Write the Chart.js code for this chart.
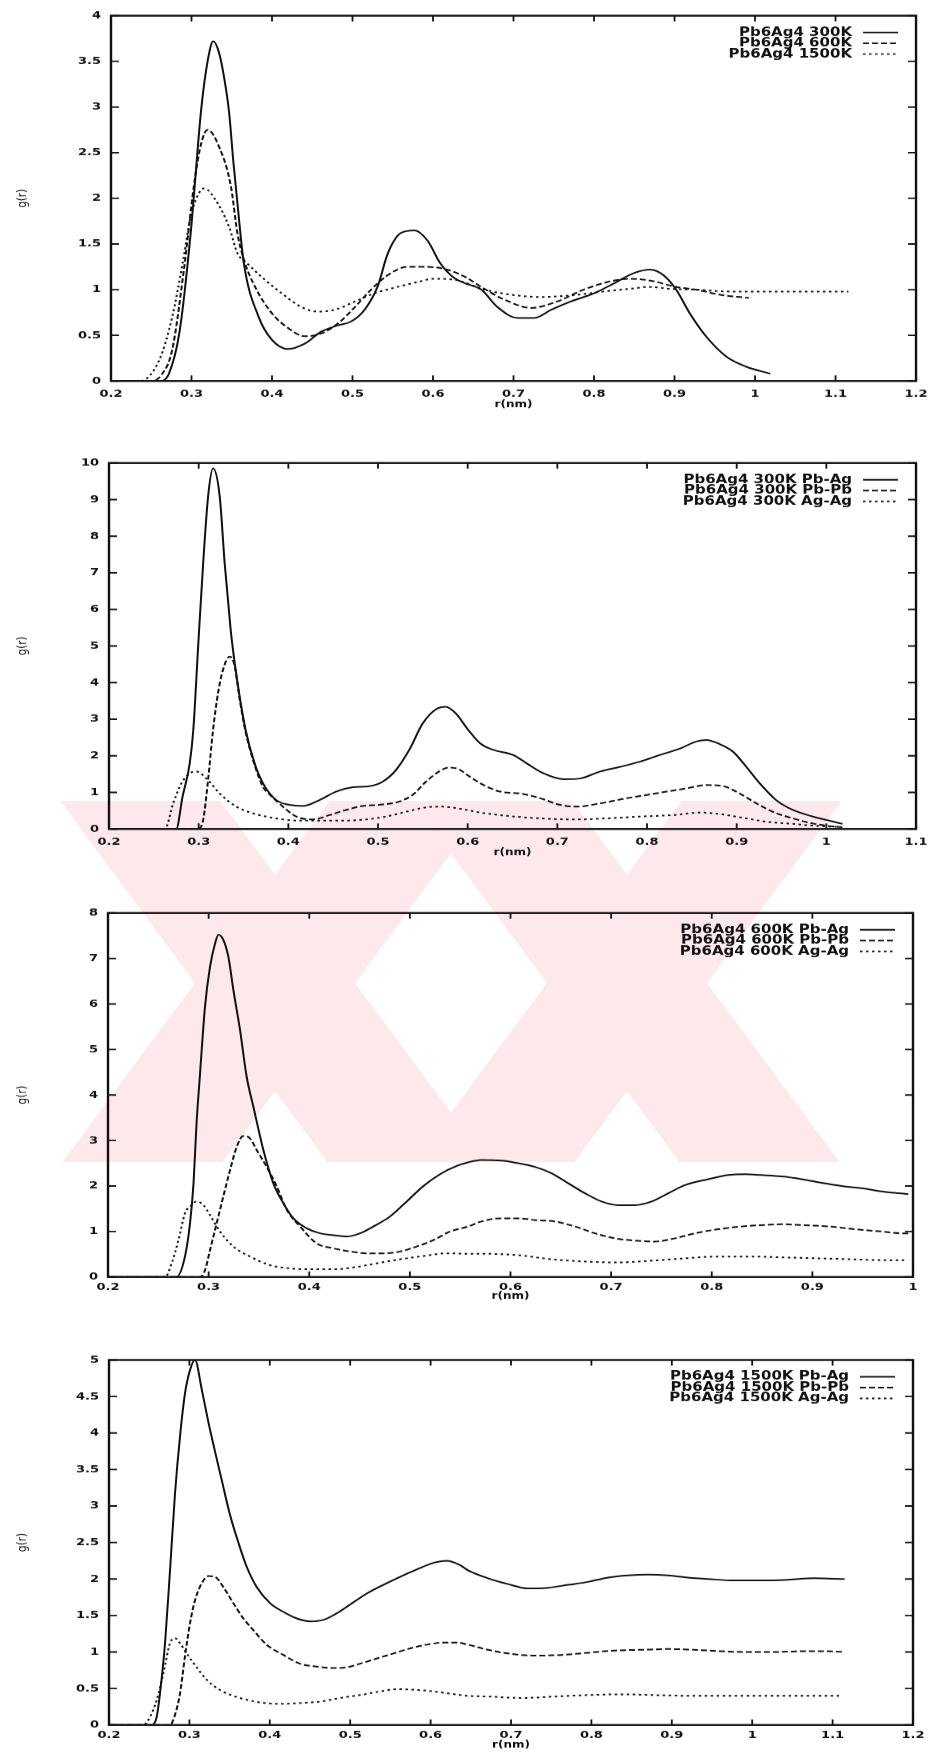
<!DOCTYPE html>
<html>
<head>
<meta charset="utf-8">
<title>g(r) Pb6Ag4</title>
<script src="https://cdn.jsdelivr.net/npm/chart.js@4.4.1/dist/chart.umd.min.js"></script>
<style>
  body { margin: 0; background: #fff; }
  #page { position: relative; width: 936px; height: 1755px; overflow: hidden; }
  #page canvas { position: absolute; left: 0; width: 936px; }
  #mark { position: absolute; left: 0; top: 0; }
</style>
</head>
<body>
<div id="page">
  <svg id="mark" width="936" height="1755"></svg>
  <canvas id="c1" width="936"></canvas>
  <canvas id="c2" width="936"></canvas>
  <canvas id="c3" width="936"></canvas>
  <canvas id="c4" width="936"></canvas>
</div>
<script>
// ---- panel 1 : total g(r) at three temperatures
var p1_r300 = [0.2, 0.262, 0.272, 0.285, 0.299, 0.312, 0.320, 0.327, 0.334, 0.340, 0.3466, 0.352, 0.357, 0.365, 0.3835, 0.400, 0.420, 0.441, 0.461, 0.482, 0.498, 0.515, 0.531, 0.544, 0.560, 0.577, 0.593, 0.609, 0.626, 0.640, 0.660, 0.680, 0.705, 0.726, 0.747, 0.771, 0.800, 0.825, 0.849, 0.870, 0.886, 0.902, 0.919, 0.939, 0.964, 0.988, 1.019];
var p1_g300 = [0, 0, 0.08, 0.53, 1.62, 2.97, 3.50, 3.72, 3.60, 3.35, 2.95, 2.40, 1.95, 1.29, 0.70, 0.45, 0.35, 0.41, 0.54, 0.61, 0.65, 0.78, 1.03, 1.40, 1.62, 1.65, 1.54, 1.29, 1.13, 1.07, 1.00, 0.81, 0.69, 0.69, 0.78, 0.87, 0.96, 1.07, 1.18, 1.22, 1.16, 1.00, 0.74, 0.49, 0.27, 0.16, 0.08];
var p1_r600 = [0.2, 0.25, 0.262, 0.276, 0.291, 0.3035, 0.312, 0.320, 0.334, 0.349, 0.357, 0.365, 0.379, 0.400, 0.420, 0.441, 0.461, 0.482, 0.503, 0.523, 0.544, 0.568, 0.593, 0.6175, 0.640, 0.660, 0.689, 0.722, 0.754, 0.787, 0.820, 0.8445, 0.8695, 0.902, 0.9265, 0.960, 0.9925];
var p1_g600 = [0, 0, 0.06, 0.34, 1.25, 2.17, 2.60, 2.75, 2.57, 2.13, 1.62, 1.33, 1.03, 0.74, 0.58, 0.49, 0.52, 0.63, 0.81, 1.00, 1.16, 1.25, 1.25, 1.22, 1.14, 1.03, 0.89, 0.80, 0.87, 1.00, 1.09, 1.12, 1.10, 1.03, 1.00, 0.94, 0.91];
var p1_r1500 = [0.2, 0.236, 0.26, 0.276, 0.289, 0.299, 0.307, 0.3157, 0.330, 0.3466, 0.357, 0.369, 0.387, 0.412, 0.4365, 0.457, 0.478, 0.503, 0.527, 0.556, 0.584, 0.601, 0.626, 0.664, 0.701, 0.734, 0.775, 0.812, 0.8445, 0.8695, 0.894, 0.9265, 0.968, 1.009, 1.05, 1.083, 1.116];
var p1_g1500 = [0, 0, 0.23, 0.70, 1.29, 1.80, 2.02, 2.11, 1.98, 1.69, 1.40, 1.29, 1.14, 0.96, 0.81, 0.76, 0.78, 0.87, 0.96, 1.03, 1.09, 1.12, 1.11, 1.00, 0.94, 0.92, 0.94, 0.98, 1.01, 1.03, 1.01, 1.00, 0.98, 0.98, 0.98, 0.98, 0.98];

// ---- panel 2 : partials at 300K
var p2_rPbAg = [0.2, 0.275, 0.282, 0.290, 0.294, 0.2994, 0.305, 0.3105, 0.316, 0.3235, 0.329, 0.3357, 0.3402, 0.3457, 0.3524, 0.3624, 0.3717, 0.3865, 0.4013, 0.416, 0.4347, 0.453, 0.4718, 0.4903, 0.505, 0.520, 0.5348, 0.550, 0.5645, 0.5756, 0.5867, 0.5993, 0.614, 0.6289, 0.651, 0.666, 0.6846, 0.707, 0.7254, 0.7476, 0.770, 0.792, 0.814, 0.837, 0.855, 0.866, 0.881, 0.896, 0.9107, 0.9256, 0.944, 0.9626, 0.985, 1.003, 1.018];
var p2_gPbAg = [0, 0, 0.88, 1.79, 2.70, 4.98, 7.26, 9.08, 9.85, 9.08, 7.26, 5.44, 4.53, 3.62, 2.70, 1.79, 1.25, 0.79, 0.66, 0.63, 0.79, 1.02, 1.14, 1.17, 1.29, 1.61, 2.16, 2.89, 3.27, 3.34, 3.16, 2.75, 2.34, 2.16, 2.02, 1.79, 1.52, 1.36, 1.38, 1.57, 1.70, 1.84, 2.02, 2.20, 2.39, 2.43, 2.32, 2.11, 1.70, 1.25, 0.79, 0.52, 0.34, 0.23, 0.14];
var p2_rPbPb = [0.2, 0.2994, 0.305, 0.3105, 0.316, 0.3216, 0.327, 0.3346, 0.3402, 0.3457, 0.3524, 0.3624, 0.3717, 0.379, 0.394, 0.4088, 0.4273, 0.4458, 0.4644, 0.483, 0.5015, 0.5237, 0.5385, 0.5534, 0.568, 0.579, 0.5904, 0.5993, 0.614, 0.6364, 0.6586, 0.681, 0.703, 0.7217, 0.7476, 0.7773, 0.7995, 0.8218, 0.844, 0.866, 0.885, 0.9033, 0.922, 0.9404, 0.9626, 0.985, 1.011, 1.018];
var p2_gPbPb = [0, 0, 0.25, 1.34, 2.70, 3.71, 4.34, 4.71, 4.45, 3.55, 2.65, 1.75, 1.15, 0.95, 0.61, 0.34, 0.26, 0.38, 0.52, 0.63, 0.66, 0.75, 0.93, 1.29, 1.57, 1.68, 1.63, 1.48, 1.25, 1.02, 0.97, 0.84, 0.66, 0.61, 0.70, 0.84, 0.93, 1.02, 1.11, 1.20, 1.17, 0.97, 0.70, 0.47, 0.29, 0.15, 0.06, 0.05];
var p2_rAgAg = [0.2, 0.2623, 0.2716, 0.2808, 0.290, 0.2975, 0.3086, 0.3235, 0.342, 0.3605, 0.3865, 0.4125, 0.4347, 0.4607, 0.4866, 0.5089, 0.531, 0.5534, 0.5719, 0.5904, 0.5993, 0.614, 0.6438, 0.681, 0.718, 0.755, 0.792, 0.829, 0.859, 0.881, 0.9033, 0.933, 0.9626, 0.992, 1.015];
var p2_gAgAg = [0, 0, 0.70, 1.25, 1.52, 1.57, 1.38, 0.97, 0.61, 0.43, 0.29, 0.23, 0.23, 0.23, 0.26, 0.34, 0.47, 0.59, 0.61, 0.56, 0.52, 0.45, 0.36, 0.29, 0.26, 0.29, 0.34, 0.38, 0.45, 0.41, 0.32, 0.20, 0.14, 0.08, 0.06];

// ---- panel 3 : partials at 600K
var p3_rPbAg = [0.2, 0.268, 0.2765, 0.2815, 0.285, 0.288, 0.2915, 0.2964, 0.3014, 0.3064, 0.3097, 0.3146, 0.3196, 0.3246, 0.3312, 0.3378, 0.3445, 0.3544, 0.3643, 0.3743, 0.3842, 0.3975, 0.4107, 0.424, 0.4372, 0.4505, 0.4637, 0.4803, 0.4969, 0.5135, 0.530, 0.5466, 0.5578, 0.571, 0.591, 0.6076, 0.6243, 0.6408, 0.6574, 0.674, 0.6905, 0.7071, 0.7237, 0.7402, 0.7568, 0.7734, 0.7966, 0.8165, 0.833, 0.8496, 0.8695, 0.8894, 0.9092, 0.9291, 0.949, 0.9689, 0.9854, 0.9953];
var p3_gPbAg = [0, 0, 0.45, 1.18, 2.06, 3.38, 4.48, 5.94, 6.82, 7.33, 7.52, 7.41, 7.04, 6.31, 5.43, 4.40, 3.74, 2.79, 2.06, 1.62, 1.29, 1.07, 0.96, 0.92, 0.89, 0.96, 1.11, 1.33, 1.66, 2.00, 2.26, 2.44, 2.52, 2.57, 2.56, 2.50, 2.42, 2.28, 2.06, 1.84, 1.66, 1.58, 1.58, 1.66, 1.84, 2.02, 2.15, 2.24, 2.26, 2.24, 2.21, 2.15, 2.07, 2.00, 1.95, 1.88, 1.84, 1.82];
var p3_rPbPb = [0.2, 0.2915, 0.2964, 0.3014, 0.308, 0.3146, 0.3213, 0.3279, 0.3345, 0.341, 0.3478, 0.3577, 0.3677, 0.3776, 0.3909, 0.4074, 0.424, 0.4406, 0.4571, 0.4737, 0.4903, 0.5068, 0.5234, 0.540, 0.5578, 0.5711, 0.591, 0.6076, 0.6243, 0.6441, 0.664, 0.684, 0.7038, 0.7237, 0.7436, 0.7634, 0.7833, 0.8065, 0.8297, 0.8496, 0.8695, 0.8894, 0.916, 0.9424, 0.969, 0.9887, 0.9953];
var p3_gPbPb = [0, 0, 0.15, 0.59, 1.18, 1.77, 2.35, 2.86, 3.10, 3.05, 2.79, 2.42, 1.99, 1.48, 1.11, 0.74, 0.63, 0.56, 0.52, 0.52, 0.56, 0.67, 0.81, 1.00, 1.11, 1.22, 1.29, 1.29, 1.25, 1.22, 1.11, 0.96, 0.85, 0.80, 0.78, 0.85, 0.96, 1.05, 1.11, 1.14, 1.16, 1.14, 1.11, 1.05, 1.00, 0.96, 0.96];
var p3_rAgAg = [0.2, 0.2567, 0.2633, 0.270, 0.2765, 0.2832, 0.288, 0.2948, 0.3014, 0.3113, 0.3246, 0.3411, 0.361, 0.3809, 0.4008, 0.424, 0.4439, 0.467, 0.4903, 0.5135, 0.5367, 0.5578, 0.5744, 0.6076, 0.6408, 0.674, 0.7071, 0.7402, 0.7734, 0.8065, 0.8397, 0.8728, 0.906, 0.9391, 0.9722, 0.992];
var p3_gAgAg = [0, 0, 0.30, 0.81, 1.40, 1.58, 1.66, 1.58, 1.36, 1.00, 0.67, 0.45, 0.26, 0.19, 0.17, 0.17, 0.21, 0.30, 0.39, 0.46, 0.52, 0.51, 0.51, 0.48, 0.39, 0.34, 0.32, 0.36, 0.41, 0.45, 0.45, 0.43, 0.41, 0.39, 0.37, 0.37];

// ---- panel 4 : partials at 1500K
var p4_rPbAg = [0.2, 0.253, 0.2593, 0.2634, 0.2697, 0.2759, 0.2821, 0.2883, 0.2945, 0.3007, 0.307, 0.3153, 0.3236, 0.3318, 0.3401, 0.3505, 0.3609, 0.3712, 0.3837, 0.4002, 0.4168, 0.4334, 0.450, 0.4666, 0.4832, 0.4998, 0.5205, 0.5412, 0.562, 0.5827, 0.6034, 0.620, 0.6366, 0.6465, 0.6714, 0.6963, 0.7211, 0.746, 0.7709, 0.7958, 0.8206, 0.8455, 0.8704, 0.8953, 0.9201, 0.945, 0.9782, 1.0113, 1.0445, 1.0776, 1.1149];
var p4_gPbAg = [0, 0, 0.11, 0.43, 1.12, 2.12, 3.17, 3.95, 4.54, 4.86, 5.00, 4.60, 4.15, 3.75, 3.36, 2.88, 2.50, 2.17, 1.89, 1.67, 1.55, 1.46, 1.42, 1.44, 1.53, 1.65, 1.80, 1.92, 2.03, 2.13, 2.22, 2.25, 2.19, 2.12, 2.01, 1.93, 1.87, 1.88, 1.92, 1.96, 2.02, 2.05, 2.06, 2.05, 2.02, 2.00, 1.98, 1.98, 1.99, 2.01, 2.00];
var p4_rPbPb = [0.2, 0.2759, 0.2821, 0.2883, 0.2945, 0.3007, 0.307, 0.3153, 0.3236, 0.3318, 0.3422, 0.3546, 0.3671, 0.3795, 0.3961, 0.4168, 0.4376, 0.4583, 0.479, 0.4956, 0.5122, 0.5329, 0.5537, 0.5744, 0.5951, 0.6158, 0.6324, 0.6465, 0.6714, 0.6963, 0.7295, 0.7626, 0.7958, 0.829, 0.8621, 0.8953, 0.9284, 0.9616, 0.9948, 1.0279, 1.0611, 1.0942, 1.1149];
var p4_gPbPb = [0, 0, 0.14, 0.43, 0.94, 1.39, 1.71, 1.94, 2.04, 2.03, 1.89, 1.67, 1.46, 1.30, 1.10, 0.96, 0.84, 0.80, 0.78, 0.79, 0.84, 0.91, 0.98, 1.05, 1.10, 1.13, 1.13, 1.10, 1.03, 0.98, 0.95, 0.96, 0.99, 1.02, 1.03, 1.04, 1.03, 1.01, 1.00, 1.00, 1.01, 1.01, 1.00];
var p4_rAgAg = [0.2, 0.2427, 0.251, 0.2593, 0.2676, 0.2759, 0.2821, 0.2883, 0.2966, 0.307, 0.3215, 0.338, 0.3629, 0.3878, 0.4127, 0.4376, 0.4624, 0.4873, 0.5122, 0.5371, 0.5578, 0.5827, 0.6034, 0.6241, 0.6465, 0.6714, 0.7129, 0.7543, 0.7958, 0.8373, 0.8787, 0.9202, 0.9616, 1.0031, 1.0445, 1.086, 1.1104];
var p4_gAgAg = [0, 0, 0.11, 0.34, 0.71, 1.12, 1.19, 1.12, 0.98, 0.82, 0.62, 0.48, 0.37, 0.31, 0.29, 0.30, 0.32, 0.37, 0.41, 0.46, 0.49, 0.48, 0.46, 0.43, 0.40, 0.39, 0.37, 0.39, 0.41, 0.42, 0.41, 0.40, 0.40, 0.40, 0.40, 0.40, 0.40];

// legend labels
var p1_labels = ['Pb6Ag4 300K', 'Pb6Ag4 600K', 'Pb6Ag4 1500K'];
var p2_labels = ['Pb6Ag4 300K Pb-Ag', 'Pb6Ag4 300K Pb-Pb', 'Pb6Ag4 300K Ag-Ag'];
var p3_labels = ['Pb6Ag4 600K Pb-Ag', 'Pb6Ag4 600K Pb-Pb', 'Pb6Ag4 600K Ag-Ag'];
var p4_labels = ['Pb6Ag4 1500K Pb-Ag', 'Pb6Ag4 1500K Pb-Pb', 'Pb6Ag4 1500K Ag-Ag'];

// axis ranges
var xMax = [1.2, 1.1, 1.0, 1.2];
var yMax = [4, 10, 8, 5];
var yStep = [0.5, 1, 1, 0.5];

// the scan is squashed vertically, so every canvas is drawn taller and shown at 0.8 height
var SQ = 0.8;
var INK = '#111';
var FONT = 'DejaVu Sans';
var dashes = [[], [6, 3], [2.5, 3.5]];

// page placement of each panel (display px): canvas top/height and plot box
var boxes = [
    {top: 0,    h: 420, L: 111, R: 923, T: 15.7, B: 381,  tickOff: 13, titleOff: 24},
    {top: 440,  h: 432, L: 109, R: 918, T: 463,  B: 829,  tickOff: 13, titleOff: 24},
    {top: 890,  h: 420, L: 108, R: 913, T: 913,  B: 1277, tickOff: 10, titleOff: 19},
    {top: 1330, h: 424, L: 109, R: 913, T: 1360, B: 1725, tickOff: 10, titleOff: 20}
];

var panels = [
    {labels: p1_labels, r: [p1_r300, p1_r600, p1_r1500], g: [p1_g300, p1_g600, p1_g1500]},
    {labels: p2_labels, r: [p2_rPbAg, p2_rPbPb, p2_rAgAg], g: [p2_gPbAg, p2_gPbPb, p2_gAgAg]},
    {labels: p3_labels, r: [p3_rPbAg, p3_rPbPb, p3_rAgAg], g: [p3_gPbAg, p3_gPbPb, p3_gAgAg]},
    {labels: p4_labels, r: [p4_rPbAg, p4_rPbPb, p4_rAgAg], g: [p4_gPbAg, p4_gPbPb, p4_gAgAg]}
];

// gnuplot style frame, inward ticks on all sides and key in the top right corner
var gnuplotFrame = {
    id: 'gnuplotFrame',
    afterDraw: function(chart) {
        var ctx = chart.ctx;
        var a = chart.chartArea;
        var sx = chart.scales.x, sy = chart.scales.y;
        ctx.save();
        ctx.strokeStyle = INK;
        ctx.fillStyle = INK;
        ctx.setLineDash([]);
        ctx.lineWidth = 2.4;
        ctx.strokeRect(a.left, a.top, a.right - a.left, a.bottom - a.top);
        ctx.lineWidth = 1.8;
        ctx.beginPath();
        sx.ticks.forEach(function(t) {
            var px = sx.getPixelForValue(t.value);
            ctx.moveTo(px, a.bottom); ctx.lineTo(px, a.bottom - 7);
            ctx.moveTo(px, a.top); ctx.lineTo(px, a.top + 7);
        });
        sy.ticks.forEach(function(t) {
            var py = sy.getPixelForValue(t.value);
            ctx.moveTo(a.left, py); ctx.lineTo(a.left + 8, py);
            ctx.moveTo(a.right, py); ctx.lineTo(a.right - 8, py);
        });
        ctx.stroke();

        // key
        ctx.font = 'bold 15px "' + FONT + '"';
        ctx.textAlign = 'right';
        ctx.textBaseline = 'middle';
        chart.data.datasets.forEach(function(ds, i) {
            var y = a.top + (16.8 + i * 10.8) / SQ;
            ctx.fillText(ds.label, a.right - 64, y);
            ctx.setLineDash(ds.borderDash);
            ctx.lineWidth = 1.8;
            ctx.beginPath();
            ctx.moveTo(a.right - 53, y);
            ctx.lineTo(a.right - 18, y);
            ctx.stroke();
        });
        ctx.restore();
    }
};

function fmt(v) { return String(Number(v.toFixed(2))); }

function makeChart(k) {
    var p = panels[k], b = boxes[k];
    var canvas = document.getElementById('c' + (k + 1));
    var ch = b.h / SQ;
    canvas.height = ch;
    canvas.style.top = b.top + 'px';
    canvas.style.height = b.h + 'px';

    var xh = (b.top + b.h - b.B) / SQ;
    var tickFont = {family: FONT, size: 13, weight: 'bold'};
    var datasets = p.labels.map(function(label, i) {
        return {
            label: label,
            data: p.r[i].map(function(x, j) { return {x: x, y: p.g[i][j]}; }),
            borderColor: INK,
            borderWidth: 2,
            borderDash: dashes[i],
            pointRadius: 0,
            fill: false,
            cubicInterpolationMode: 'monotone'
        };
    });

    return new Chart(canvas, {
        type: 'line',
        data: {datasets: datasets},
        options: {
            responsive: false,
            animation: false,
            devicePixelRatio: 1,
            layout: {padding: {left: 0, right: 936 - b.R, top: (b.T - b.top) / SQ, bottom: 0}},
            plugins: {legend: {display: false}, tooltip: {enabled: false}},
            scales: {
                x: {
                    type: 'linear', min: 0.2, max: xMax[k],
                    afterFit: function(s) { s.height = xh; },
                    grid: {display: false, drawTicks: false},
                    border: {display: false},
                    ticks: {
                        stepSize: 0.1, autoSkip: false, maxRotation: 0,
                        padding: b.tickOff / SQ - 7.8,
                        color: INK, font: tickFont,
                        callback: fmt
                    },
                    title: {
                        display: true, text: 'r(nm)', color: INK,
                        font: {family: FONT, size: 12, weight: 'bold'},
                        padding: {top: 0, bottom: xh - b.titleOff / SQ - 7.2}
                    }
                },
                y: {
                    min: 0, max: yMax[k],
                    afterFit: function(s) { s.width = b.L; },
                    grid: {display: false, drawTicks: false},
                    border: {display: false},
                    ticks: {
                        stepSize: yStep[k], padding: 10,
                        color: INK, font: tickFont,
                        callback: fmt
                    },
                    title: {
                        display: true, text: 'g(r)', color: INK,
                        font: {family: FONT, size: 13, weight: 'normal'},
                        padding: {top: 15, bottom: 0}
                    }
                }
            }
        },
        plugins: [gnuplotFrame]
    });
}

// faint thesis watermark behind panels 2 and 3: two big crossed bands, clipped to a strip
(function() {
    var svg = document.getElementById('mark');
    var y0 = 801, y1 = 1162, ym = 983, k = 0.74, w = 160;
    var html = '<defs><clipPath id="strip"><rect x="0" y="' + y0 + '" width="936" height="' + (y1 - y0) + '"/></clipPath></defs><g clip-path="url(#strip)" fill="#fde8ec">';
    [275, 627].forEach(function(cx) {
        var t = k * (ym - y0), d = k * (y1 - ym);
        var a = [[cx - t - w / 2, y0], [cx - t + w / 2, y0], [cx + d + w / 2, y1], [cx + d - w / 2, y1]];
        var c = [[cx + t - w / 2, y0], [cx + t + w / 2, y0], [cx - d + w / 2, y1], [cx - d - w / 2, y1]];
        [a, c].forEach(function(pts) {
            html += '<polygon points="' + pts.map(function(q) { return q.join(','); }).join(' ') + '"/>';
        });
    });
    svg.innerHTML = html + '</g>';
})();

for (var i = 0; i < 4; i++) makeChart(i);
</script>
</body>
</html>
